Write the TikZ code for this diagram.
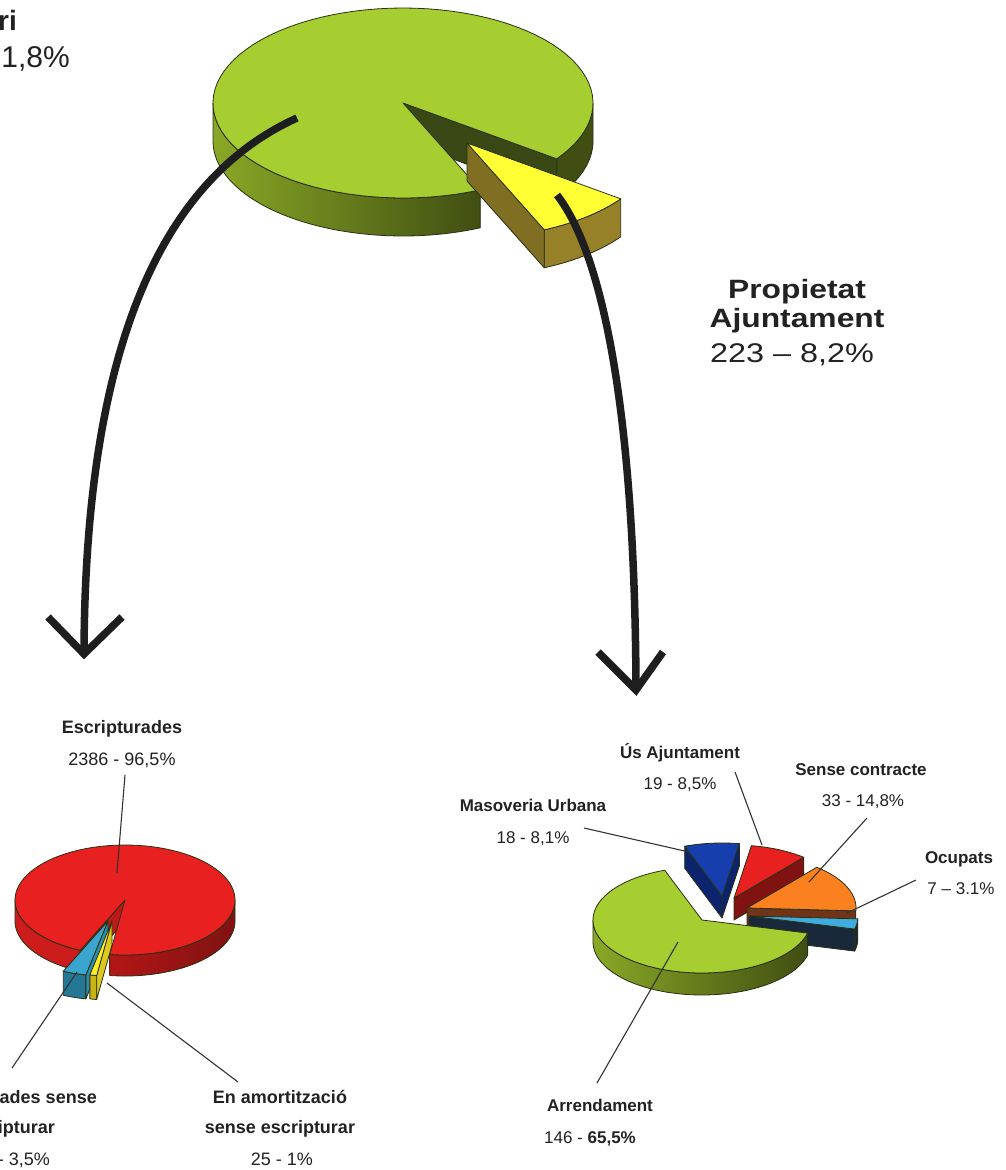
\documentclass[tikz,border=0pt]{standalone}
\usepackage{fontspec}
\setmainfont{Liberation Sans}
\newfontfamily\bigfont[FakeStretch=1.2]{Liberation Sans}
\usetikzlibrary{calc}

\definecolor{txt}{RGB}{34,34,34}
\definecolor{olv}{RGB}{40,48,18}
\definecolor{gtop}{RGB}{166,206,48}
\definecolor{gwl}{RGB}{138,168,38}
\definecolor{gwm}{RGB}{156,190,44}
\definecolor{gwr}{RGB}{64,78,18}
\definecolor{gcut}{RGB}{58,72,22}
\definecolor{ytop}{RGB}{255,255,51}
\definecolor{ywall}{RGB}{150,128,40}
\definecolor{ycut}{RGB}{128,110,34}
\definecolor{rtop}{RGB}{232,32,32}
\definecolor{rwl}{RGB}{205,28,28}
\definecolor{rwm}{RGB}{178,22,22}
\definecolor{rwr}{RGB}{128,18,18}
\definecolor{rcut}{RGB}{190,25,25}
\definecolor{lbtop}{RGB}{58,166,207}
\definecolor{lbwall}{RGB}{36,120,150}
\definecolor{lbcut}{RGB}{44,140,176}
\definecolor{lytop}{RGB}{255,236,40}
\definecolor{lywall}{RGB}{200,180,20}
\definecolor{lycut}{RGB}{222,200,30}
\definecolor{btop}{RGB}{22,62,172}
\definecolor{bcut}{RGB}{12,36,110}
\definecolor{ortop}{RGB}{250,128,32}
\definecolor{orcut}{RGB}{112,52,24}
\definecolor{cytop}{RGB}{62,172,222}
\definecolor{navy}{RGB}{26,40,60}
\definecolor{arrowc}{RGB}{30,30,30}

% cx cy rx ry a b style
\newcommand{\PieTop}[7]{\path[#7] (#1,#2) -- plot[domain=#5:#6,samples=90] ({#1+#3*cos(\x)},{#2+#4*sin(\x)}) -- cycle;}
% cx cy rx ry depth a b style
\newcommand{\PieWall}[8]{\path[#8] plot[domain=#6:#7,samples=50] ({#1+#3*cos(\x)},{#2+#4*sin(\x)}) -- plot[domain=#7:#6,samples=50] ({#1+#3*cos(\x)},{#2+#5+#4*sin(\x)}) -- cycle;}
% cx cy rx ry depth angle style
\newcommand{\PieCut}[7]{\path[#7] (#1,#2) -- ({#1+#3*cos(#6)},{#2+#4*sin(#6)}) -- ({#1+#3*cos(#6)},{#2+#5+#4*sin(#6)}) -- (#1,{#2+#5}) -- cycle;}

\begin{document}
\begin{tikzpicture}[x=1pt,y=-1pt,
  edge/.style={draw=olv,line width=0.8pt,line join=round},
  arrowline/.style={draw=arrowc,line width=7.5pt},
  leader/.style={draw=black!80,line width=1.1pt},
  lblL/.style={font=\fontsize{18}{20}\selectfont\bfseries,text=txt,inner sep=0pt,anchor=base},
  numL/.style={font=\fontsize{18}{20}\selectfont,text=txt,inner sep=0pt,anchor=base},
  lblR/.style={font=\fontsize{17}{20}\selectfont\bfseries,text=txt,inner sep=0pt,anchor=base},
  numR/.style={font=\fontsize{17}{20}\selectfont,text=txt,inner sep=0pt,anchor=base},
  bigB/.style={font=\bigfont\fontsize{26.5}{30}\selectfont\bfseries,text=txt,inner sep=0pt,anchor=base},
  bigR/.style={font=\bigfont\fontsize{27}{30}\selectfont,text=txt,inner sep=0pt,anchor=base}]
\fill[white] (0,0) rectangle (1005,1170);
\useasboundingbox (0,0) rectangle (1005,1170);

% ---------- top pie ----------
\PieWall{403}{103}{190}{95}{38}{66}{180}{edge,left color=gwl,middle color=gwm,right color=gwr}
\PieWall{403}{103}{190}{95}{38}{0}{36}{edge,fill=gwr}
\PieCut{403}{103}{190}{95}{38}{36}{edge,fill=gcut}
\PieTop{403}{103}{190}{95}{66}{396}{edge,fill=gtop}
% yellow exploded wedge
\PieWall{467}{143}{190}{95}{38}{36}{66}{edge,fill=ywall}
\PieCut{467}{143}{190}{95}{38}{66}{edge,fill=ycut}
\PieTop{467}{143}{190}{95}{36}{66}{edge,fill=ytop}

% ---------- left pie ----------
\PieWall{125}{900}{110}{55}{21}{114}{180}{edge,fill=rwl}
\PieWall{125}{900}{110}{55}{21}{0}{98}{edge,left color=rwm,right color=rwr}
\PieCut{125}{900}{110}{55}{21}{114}{edge,fill=rcut}
\PieTop{125}{900}{110}{55}{114}{458}{edge,fill=rtop}
\PieWall{108}{921}{110}{55}{24}{101.6}{114}{edge,fill=lbwall}
\PieCut{108}{921}{110}{55}{24}{101.6}{edge,fill=lbcut}
\PieTop{108}{921}{110}{55}{101.6}{114}{edge,fill=lbtop}
\PieWall{112}{921}{110}{55}{24}{98}{101.6}{edge,fill=lywall}
\PieCut{112}{921}{110}{55}{24}{98}{edge,fill=lycut}
\PieTop{112}{921}{110}{55}{98}{101.6}{edge,fill=lytop}

% ---------- right pie ----------
\PieCut{722}{896}{109}{53}{22}{250}{edge,fill=bcut}
\PieCut{722}{896}{109}{53}{22}{279.2}{edge,fill=bcut}
\PieTop{722}{896}{109}{53}{250}{279.2}{edge,fill=btop}
\PieCut{734}{898}{109}{53}{22}{309.8}{edge,fill=rwr}
\PieTop{734}{898}{109}{53}{279.2}{309.8}{edge,fill=rtop}
\PieCut{747}{908}{109}{53}{22}{363.1}{edge,fill=orcut}
\PieTop{747}{908}{109}{53}{309.8}{363.1}{edge,fill=ortop}
\PieWall{749}{916}{109}{53}{22}{363.1}{374.3}{edge,fill=navy}
\PieCut{749}{916}{109}{53}{22}{374.3}{edge,fill=navy}
\PieTop{749}{916}{109}{53}{363.1}{374.3}{edge,fill=cytop}
\PieWall{702}{920}{109}{53}{22}{14.3}{180}{edge,left color=gwl,middle color=gwm,right color=gwr}
\PieTop{702}{920}{109}{53}{14.3}{250}{edge,fill=gtop}

% ---------- curved arrows ----------
\coordinate (aLs) at (297,118);
\coordinate (aLe) at (84,654);
\coordinate (aRs) at (557,195);
\coordinate (aRe) at (636,690);
\draw[arrowline] (aLs) .. controls (160,180) and (85,350) .. (aLe);
\draw[arrowline,line join=miter] ($(aLe)+(-36,-37)$) -- (aLe) -- ($(aLe)+(38,-37)$);
\draw[arrowline] (aRs) .. controls (600,250) and (635,400) .. (aRe);
\draw[arrowline,line join=miter] ($(aRe)+(-38,-38)$) -- (aRe) -- ($(aRe)+(27,-38)$);

% ---------- big texts ----------
\node[anchor=base east,inner sep=0pt,text=txt,font=\fontsize{28}{32}\selectfont\bfseries] (tlT) at (17,30) {ri};
\node[anchor=base east,inner sep=0pt,text=txt,font=\fontsize{30}{34}\selectfont] (tlN) at (70,67) {1,8\%};
\node[bigB] (pa1) at (797,298) {Propietat};
\node[bigB] (pa2) at (797,327) {Ajuntament};
\node[bigR] (pa3) at (792,362) {223 – 8,2\%};

% ---------- left labels ----------
\node[lblL] (escT) at (122,733) {Escripturades};
\node[numL] (escN) at (122,765) {2386 - 96,5\%};
\node[lblL,anchor=base east] (adjT) at (97,1103) {ades sense};
\node[lblL,anchor=base east] (adjT2) at (55,1133) {ipturar};
\node[numL,anchor=base east] (adjN) at (50,1165) {- 3,5\%};
\node[lblL] (amoT) at (280,1103) {En amortització};
\node[lblL] (amoT2) at (280,1133) {sense escripturar};
\node[numL] (amoN) at (282,1165) {25 - 1\%};

\coordinate (escA) at (125,775);  \coordinate (escB) at (117,873);
\coordinate (adjA) at (12,1068);  \coordinate (adjB) at (77,972);
\coordinate (amoA) at (238,1082); \coordinate (amoB) at (107,983);
\draw[leader] (escA) -- (escB);
\draw[leader] (adjA) -- (adjB);
\draw[leader] (amoA) -- (amoB);

% ---------- right labels ----------
\node[lblR] (usT) at (680,758) {Ús Ajuntament};
\node[numR] (usN) at (680,789) {19 - 8,5\%};
\node[lblR] (scT) at (861,775) {Sense contracte};
\node[numR] (scN) at (863,806) {33 - 14,8\%};
\node[lblR] (maT) at (533,811) {Masoveria Urbana};
\node[numR] (maN) at (533,843) {18 - 8,1\%};
\node[lblR] (ocT) at (959,863) {Ocupats};
\node[numR] (ocN) at (961,894) {7 – 3.1\%};
\node[lblR] (arT) at (600,1111) {Arrendament};
\node[numR] (arN) at (590,1143) {146 - \textbf{65,5\%}};

\coordinate (usA) at (735,772);  \coordinate (usB) at (762,845);
\coordinate (scA) at (867,818);  \coordinate (scB) at (809,882);
\coordinate (maA) at (584,828);  \coordinate (maB) at (689,852);
\coordinate (ocA) at (916,880);  \coordinate (ocB) at (847,913);
\coordinate (arA) at (597,1083); \coordinate (arB) at (678,942);
\draw[leader] (usA) -- (usB);
\draw[leader] (scA) -- (scB);
\draw[leader] (maA) -- (maB);
\draw[leader] (ocA) -- (ocB);
\draw[leader] (arA) -- (arB);
\end{tikzpicture}
\end{document}
